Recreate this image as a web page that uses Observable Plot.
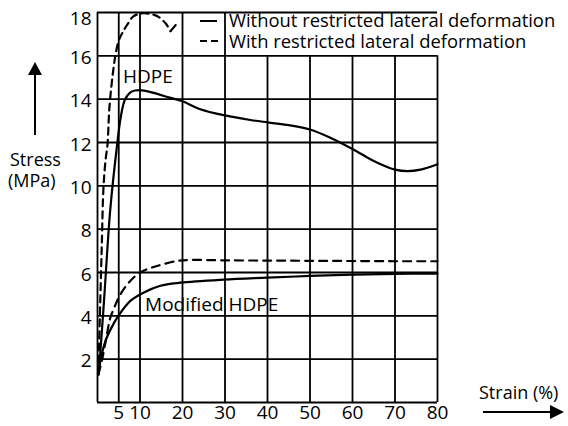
<!DOCTYPE html>
<html>
<head>
<meta charset="utf-8">
<script src="https://cdn.jsdelivr.net/npm/d3@7"></script>
<script src="https://cdn.jsdelivr.net/npm/@observablehq/plot@0.6"></script>
<style>
  html, body { margin: 0; padding: 0; background: #fff; }
  #chart { width: 568px; height: 426px; position: relative; }
  #chart svg { font-family: "Open Sans", sans-serif; }
</style>
</head>
<body>
<div id="chart"></div>
<script>
// Tick labels
const strainTicks = [5, 10, 20, 30, 40, 50, 60, 70, 80];
const stressTicks = [2, 4, 6, 8, 10, 12, 14, 16, 18];
const gridStrain = [0, 5, 10, 20, 30, 40, 50, 60, 70, 80];

// HDPE, without restricted lateral deformation
const hdpeFreeStrain = [0.3, 1.5, 3, 4.5, 5.5, 6.5, 8, 10, 13, 17, 20, 24, 30, 36, 40, 45, 50, 55, 60, 65, 70, 73, 76, 80];
const hdpeFreeStress = [1.3, 4.6, 8.9, 11.7, 13.2, 14.0, 14.35, 14.42, 14.3, 14.07, 13.9, 13.55, 13.25, 13.04, 12.93, 12.8, 12.6, 12.2, 11.7, 11.15, 10.75, 10.68, 10.75, 11.0];

// HDPE, with restricted lateral deformation (ends in fracture)
const hdpeRestrStrain = [0.2, 0.6, 1.0, 1.4, 1.9, 2.35, 2.8, 3.5, 4.2, 5.0, 6.1, 7.2, 8.5, 10.8, 12.5, 14.1, 16, 17.2];
const hdpeRestrStress = [1.3, 4.3, 7.2, 9.9, 11.2, 11.9, 13.6, 15.0, 16.0, 16.7, 17.15, 17.5, 17.83, 17.97, 17.93, 17.83, 17.5, 17.14];
const fractureStrain = [17.2, 18.4];
const fractureStress = [17.14, 17.42];

// Modified HDPE, without restricted lateral deformation
const modFreeStrain = [0.2, 0.7, 1.9, 3.8, 4.9, 7.8, 10.8, 14.8, 19.5, 29.6, 40, 50, 60, 70, 80];
const modFreeStress = [1.3, 1.94, 2.86, 3.64, 4.0, 4.7, 5.07, 5.39, 5.53, 5.67, 5.76, 5.84, 5.9, 5.94, 5.95];

// Modified HDPE, with restricted lateral deformation
const modRestrStrain = [0.2, 1, 2, 3, 4, 5, 7, 10, 14, 19, 22, 30, 40, 50, 60, 70, 80];
const modRestrStress = [1.3, 1.9, 2.9, 3.9, 4.4, 4.85, 5.45, 6.0, 6.3, 6.54, 6.58, 6.56, 6.55, 6.54, 6.53, 6.52, 6.52];

const toRows = (xs, ys) => xs.map((x, i) => ({strain: x, stress: ys[i]}));

const W = 568, H = 426;
const mL = 97, mR = 131, mT = 12, mB = 24;

const lineOpts = {x: "strain", y: "stress", stroke: "#000", strokeWidth: 2.2, curve: "catmull-rom"};

const chart = Plot.plot({
  width: W,
  height: H,
  marginLeft: mL,
  marginRight: mR,
  marginTop: mT,
  marginBottom: mB,
  x: {domain: [0, 80]},
  y: {domain: [0, 18]},
  style: {fontFamily: "'Open Sans', sans-serif", fontSize: "19px", color: "#000", background: "#fff", overflow: "visible"},
  marks: [
    // grid: horizontal lines across, vertical lines stop below the legend row past 30 %
    Plot.ruleY(stressTicks, {x1: 0, x2: 80, stroke: "#000", strokeWidth: 1.8}),
    Plot.ruleY([0], {x1: 0, x2: 80, stroke: "#000", strokeWidth: 2}),
    Plot.ruleX(gridStrain, {y1: 0, y2: d => (d <= 30 ? 18 : 16), stroke: "#000", strokeWidth: 1.8}),
    Plot.axisX(strainTicks, {tickSize: 0, tickPadding: 3, fontSize: 19, label: null}),
    Plot.axisY(stressTicks.filter(d => d < 18), {tickSize: 0, tickPadding: 6, dy: 2, fontSize: 19, label: null}),
    Plot.axisY([18], {tickSize: 0, tickPadding: 6, dy: 6, fontSize: 19, label: null}),
    // curves
    Plot.line(toRows(hdpeFreeStrain, hdpeFreeStress), lineOpts),
    Plot.line(toRows(hdpeRestrStrain, hdpeRestrStress), {...lineOpts, strokeDasharray: "7,5"}),
    Plot.line(toRows(fractureStrain, fractureStress), {...lineOpts, curve: "linear"}),
    Plot.line(toRows(modFreeStrain, modFreeStress), lineOpts),
    Plot.line(toRows(modRestrStrain, modRestrStress), {...lineOpts, strokeDasharray: "8,6"}),
    // curve labels
    Plot.text(["HDPE"], {x: 6.0, y: 15.05, text: d => d, textAnchor: "start", fontSize: 19, fill: "#000"}),
    Plot.text(["Modified HDPE"], {x: 11.2, y: 4.5, text: d => d, textAnchor: "start", fontSize: 19, fill: "#000"})
  ]
});

document.getElementById("chart").appendChild(chart);

// legend, axis titles and arrows drawn into the same SVG
const svg = d3.select(chart);
const ann = svg.append("g").attr("fill", "#000").attr("text-anchor", "start")
  .attr("font-family", "'Open Sans', sans-serif");

ann.append("line").attr("x1", 200).attr("x2", 217).attr("y1", 21).attr("y2", 21)
  .attr("stroke", "#000").attr("stroke-width", 2);
ann.append("line").attr("x1", 200).attr("x2", 218).attr("y1", 41).attr("y2", 41)
  .attr("stroke", "#000").attr("stroke-width", 2).attr("stroke-dasharray", "7,4");
ann.append("text").attr("x", 229).attr("y", 27).attr("font-size", 18.4).text("Without restricted lateral deformation");
ann.append("text").attr("x", 229).attr("y", 47.5).attr("font-size", 18.4).text("With restricted lateral deformation");

ann.append("text").attr("x", 10).attr("y", 166).attr("font-size", 18).text("Stress");
ann.append("text").attr("x", 8).attr("y", 187).attr("font-size", 18).text("(MPa)");
ann.append("text").attr("x", 479).attr("y", 399).attr("font-size", 18).text("Strain (%)");

// up arrow beside the stress title
ann.append("line").attr("x1", 35).attr("x2", 35).attr("y1", 135).attr("y2", 72)
  .attr("stroke", "#000").attr("stroke-width", 2);
ann.append("path").attr("d", "M35,62 L28,75 L42,75 Z");
// right arrow beneath the strain title
ann.append("line").attr("x1", 483).attr("x2", 552).attr("y1", 412).attr("y2", 412)
  .attr("stroke", "#000").attr("stroke-width", 2);
ann.append("path").attr("d", "M564,412 L550,405 L550,419 Z");
</script>
</body>
</html>
